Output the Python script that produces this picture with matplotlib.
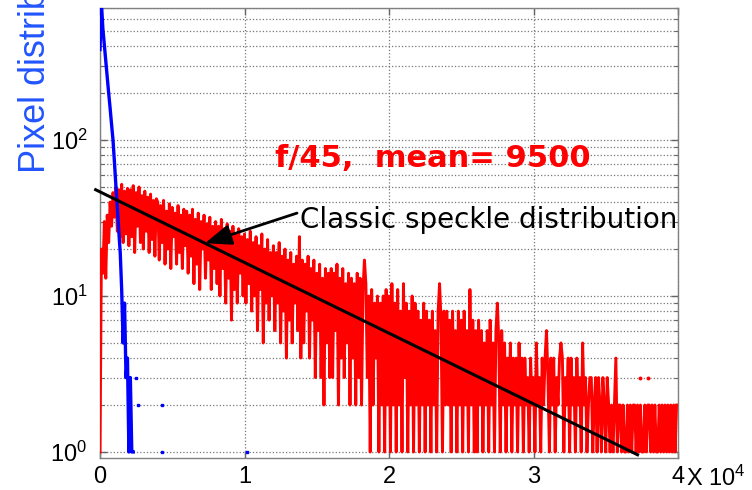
import matplotlib
matplotlib.use("Agg")
import matplotlib.pyplot as plt
import numpy as np
from matplotlib.ticker import LogLocator, FixedLocator, NullLocator

plt.rcParams["font.family"] = ["Liberation Sans", "DejaVu Sans"]
plt.rcParams["mathtext.fontset"] = "custom"
plt.rcParams["mathtext.rm"] = "Liberation Sans"
plt.rcParams["mathtext.it"] = "Liberation Sans:italic"
plt.rcParams["mathtext.bf"] = "Liberation Sans:bold"

# histogram of pixel values, bins of 100 counts
bin_width = 100

blue_counts = [380, 750, 515, 407, 321, 253, 200, 160, 126, 100, 72, 51,
               37, 26, 19, 11, 5, 9, 3, 4, 1, 3, 1, 1]
blue_dot_x = [2500, 2600, 4300, 4300, 10200]
blue_dot_y = [3, 2, 2, 1, 1]

red_counts = [
    1, 20, 14, 30, 13, 33, 22, 40, 28, 46, 32, 50, 26, 48, 24, 52, 22, 47, 25, 49,
    21, 48, 24, 51, 19, 46, 28, 50, 22, 44, 20, 47, 26, 43, 19, 45, 23, 41, 18, 42,
    40, 17, 38, 22, 41, 16, 35, 20, 39, 15, 37, 24, 34, 16, 38, 19, 33, 15, 36, 21,
    35, 14, 33, 18, 36, 12, 31, 16, 34, 11, 30, 20, 33, 13, 29, 17, 32, 11, 28, 15,
    30, 12, 28, 10, 31, 15, 27, 9, 29, 13, 26, 7, 28, 11, 25, 9, 27, 14, 24, 10,
    25, 9, 23, 12, 26, 8, 22, 10, 24, 6, 21, 11, 25, 5, 20, 9, 23, 7, 19, 10,
    21, 6, 19, 9, 22, 5, 18, 8, 20, 4, 17, 7, 19, 5, 16, 9, 18, 6, 24, 4,
    17, 5, 16, 8, 18, 4, 15, 7, 17, 3, 14, 6, 16, 3, 13, 2, 15, 5, 14, 3,
    15, 3, 14, 6, 16, 2, 13, 4, 15, 3, 12, 5, 14, 2, 13, 4, 12, 2, 14, 3,
    13, 2, 11, 17, 12, 3, 10, 1, 11, 2, 9, 4, 10, 1, 9, 2, 10, 1, 11, 2,
    10, 1, 12, 2, 9, 1, 11, 2, 8, 1, 12, 3, 9, 1, 8, 2, 10, 1, 9, 2,
    8, 1, 7, 2, 9, 1, 8, 2, 7, 1, 8, 2, 6, 1, 8, 12, 7, 1, 8, 2,
    8, 2, 7, 1, 8, 2, 6, 1, 8, 2, 7, 1, 8, 2, 6, 1, 11, 2, 7, 1,
    6, 1, 7, 2, 6, 1, 5, 2, 6, 1, 7, 2, 5, 1, 6, 9, 5, 1, 6, 2,
    5, 1, 4, 2, 5, 1, 4, 2, 4, 1, 5, 2, 4, 1, 4, 2, 3, 1, 4, 2,
    3, 1, 5, 2, 3, 1, 4, 2, 4, 6, 3, 1, 4, 2, 4, 1, 3, 2, 4, 5,
    4, 1, 3, 2, 4, 1, 4, 2, 3, 1, 4, 2, 3, 1, 5, 2, 3, 1, 2, 3,
    3, 1, 2, 3, 1, 3, 2, 1, 3, 2, 1, 3, 2, 1, 2, 1, 2, 4, 1, 2,
    2, 1, 2, 1, 1, 2, 1, 2, 1, 2, 2, 1, 2, 1, 2, 1, 1, 2, 1, 2,
    2, 1, 2, 1, 2, 1, 1, 2, 1, 2, 1, 2, 1, 2, 1, 2, 1, 2, 1, 2,
]
red_dot_x = [37400, 37900]
red_dot_y = [3, 3]

# exponential speckle fit, end points
fit_x = [-300, 37200]
fit_y = [48, 0.96]

x_ticks = [0, 10000, 20000, 30000, 40000]
x_tick_labels = ["0", "1", "2", "3", "4"]

fig = plt.figure(figsize=(7.52, 4.90), dpi=100)
ax = fig.add_axes([100 / 752, 32 / 490, 578 / 752, 450 / 490])

red_x = np.arange(len(red_counts)) * bin_width
blue_x = np.arange(len(blue_counts)) * bin_width

ax.plot(red_x, red_counts, color="#ff0000", lw=2.1, zorder=3)
ax.plot(red_dot_x, red_dot_y, "o", color="#ff0000", ms=1.8, zorder=3)
ax.plot(blue_x, blue_counts, color="#0000ff", lw=2.4, zorder=4)
ax.plot(blue_dot_x, blue_dot_y, "s", color="#0000ff", ms=1.6, zorder=4)
ax.plot(fit_x, fit_y, color="black", lw=2.2, zorder=5, clip_on=False)

ax.set_yscale("log")
ax.set_xlim(0, 40000)
ax.set_ylim(0.915, 702)

ax.xaxis.set_major_locator(FixedLocator(x_ticks))
ax.set_xticklabels(x_tick_labels)
ax.xaxis.set_minor_locator(NullLocator())
ax.yaxis.set_major_locator(LogLocator(base=10, numticks=10))
ax.yaxis.set_minor_locator(LogLocator(base=10, subs=np.arange(2, 10), numticks=10))

ax.grid(True, which="major", axis="both", ls=":", color="#777777", lw=0.9)
ax.grid(True, which="minor", axis="y", ls=":", color="#777777", lw=0.9)

ax.tick_params(which="both", direction="in", top=True, right=True,
               labelsize=17, colors="#666666", labelcolor="black")
ax.tick_params(which="major", length=5, width=1)
ax.tick_params(which="minor", length=3, width=0.8)
ax.tick_params(axis="x", pad=6)
ax.tick_params(axis="y", pad=9)
for sp in ax.spines.values():
    sp.set_color("#808080")
    sp.set_linewidth(1.0)

fig.text(686 / 752, 1 - 486 / 490, r"X $\mathdefault{10^{4}}$", fontsize=17,
         ha="left", va="baseline")

fig.text(36 / 752, 1 - 173 / 490, "Pixel distribution", color="#2255ff",
         fontsize=26, rotation=90, ha="center", va="bottom")

ax.text((275 - 100) / 578, (458 - 167) / 450, "f/45,  mean= 9500",
        transform=ax.transAxes, color="#ff0000", fontsize=22,
        fontweight="bold", family="DejaVu Sans", ha="left", va="baseline")

ax.text((300 - 100) / 578, (458 - 228) / 450, "Classic speckle distribution",
        transform=ax.transAxes, color="black", fontsize=20,
        family="DejaVu Sans", ha="left", va="baseline")

ax.annotate("", xy=(7266, 21.8), xytext=(13632, 34.0),
            arrowprops=dict(arrowstyle="-|>,head_length=0.9,head_width=0.35",
                            color="black", lw=2, mutation_scale=18,
                            shrinkA=0, shrinkB=0),
            zorder=6)

fig.savefig("out.png", dpi=100)
